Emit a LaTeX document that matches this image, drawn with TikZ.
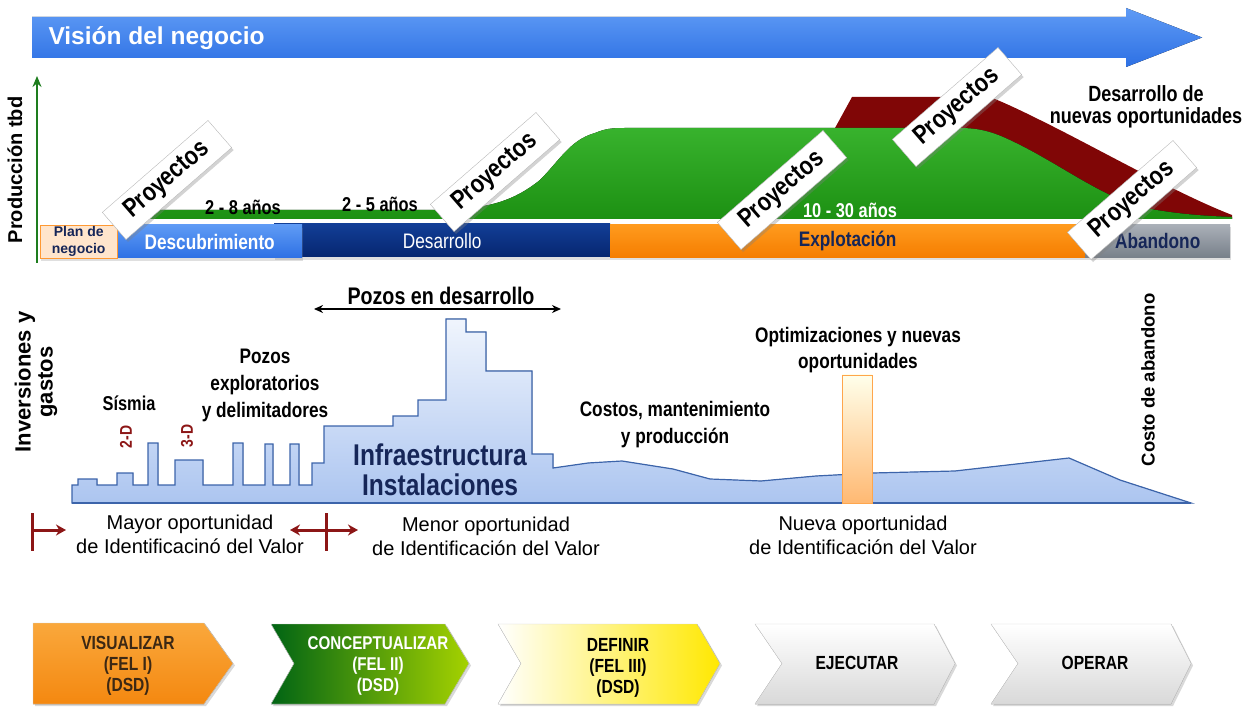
\documentclass[tikz,border=0pt]{standalone}
\usepackage{fontspec}
\setmainfont{Liberation Sans}
\newfontfamily\narrow{Liberation Sans}[FakeStretch=0.82]
\usepackage{tikz}
\usetikzlibrary{arrows, arrows.meta, shadows}
\definecolor{vbtop}{RGB}{95,155,245}
\definecolor{vbbot}{RGB}{45,112,228}
\definecolor{axgreen}{RGB}{30,125,30}
\definecolor{prodgreen}{RGB}{34,170,22}
\definecolor{prodred}{RGB}{128,6,6}
\definecolor{navy}{RGB}{22,38,88}
\definecolor{destop}{RGB}{18,62,150}
\definecolor{desbot}{RGB}{6,38,112}
\definecolor{dred}{RGB}{140,22,22}
\definecolor{invline}{RGB}{60,100,170}
\definecolor{invtop}{RGB}{240,245,253}
\definecolor{invbot}{RGB}{172,197,240}
\tikzstyle{arrow} = [thick,->,>=stealth]
\tikzstyle{lbl} = [align=center, inner sep=0, font=\narrow\bfseries\fsz{21}{27}]
\tikzstyle{olbl} = [align=center, inner sep=0, font=\fsz{20}{24}]
\tikzstyle{phase} = [rectangle, anchor=west, inner sep=0, minimum height=33pt, align=center, font=\narrow\bfseries\fsz{21}{21}, drop shadow={opacity=0.25, shadow xshift=1pt, shadow yshift=-3pt}]
\tikzstyle{proy} = [rectangle, draw=gray!55, fill=white, rotate=41, inner sep=0, minimum width=140pt, minimum height=36pt, font=\narrow\bfseries\fsz{26}{26}, drop shadow={opacity=0.35, shadow xshift=2pt, shadow yshift=-2.5pt}]
\tikzstyle{chev} = [draw=gray!35, drop shadow={opacity=0.3, shadow xshift=2pt, shadow yshift=-2pt}]
\tikzstyle{chevtext} = [align=center, inner sep=0, font=\narrow\bfseries\fsz{19}{21}]
\tikzstyle{mline} = [line width=3pt, dred, >={Stealth[length=10pt,width=11pt]}]
\newcommand\fsz[2]{\fontsize{#1}{#2}\selectfont}

\begin{document}
\begin{tikzpicture}[x=1pt, y=-1pt]
\useasboundingbox (0,0) rectangle (1258,708);

\fill [top color=vbtop, bottom color=vbbot] (32,17) -- (1126,17) -- (1126,8) -- (1202,37.5) -- (1126,67) -- (1126,58) -- (32,58) -- cycle;
\node (vision) [anchor=west, text=white, font=\bfseries\fsz{24.5}{24}] at (45,38) {Visión del negocio};

\coordinate (ybot) at (37,263);
\coordinate (ytop) at (37,76);
\draw [arrow, line width=2.5pt, axgreen, >={Stealth[length=11pt,width=9pt]}] (ybot) -- (ytop);
\node (prod) [rotate=90, font=\bfseries\fsz{20}{20}] at (15,170) {Producción tbd};

\fill [prodred] (830,219) -- (835,128) -- (852,97) -- (990,97) .. controls (1010,105) and (1030,115) .. (1050,125) .. controls (1100,150) and (1180,195) .. (1232,215) -- (1232,219) -- cycle;
\fill [top color=prodgreen!90!white, bottom color=prodgreen!85!black] (140,219) -- (140,210) -- (440,210) .. controls (490,209) and (515,200) .. (540,180) .. controls (560,160) and (570,140) .. (595,133) .. controls (605,129) and (610,128) .. (625,128) -- (960,128) .. controls (985,128) and (1000,135) .. (1020,145) .. controls (1060,165) and (1100,195) .. (1140,207) .. controls (1180,215) and (1210,216) .. (1232,217) -- (1232,219) -- cycle;

\node (desa) [phase, minimum width=336pt, top color=destop, bottom color=desbot, text=white, font=\narrow\fsz{21}{21}] at (274,240.5) {Desarrollo};
\node (desc) [phase, minimum width=185pt, top color=vbtop, bottom color=vbbot, text=white] at (117,241.5) {Descubrimiento};
\node (plan) [phase, minimum width=77pt, draw=orange!80, fill=orange!20, text=navy, font=\bfseries\fsz{14}{17}] at (40,241.5) {Plan de\\negocio};
\node (expl) [phase, minimum width=475pt, top color={rgb,255:red,255;green,155;blue,30}, bottom color={rgb,255:red,245;green,125;blue,0}, text=navy] at (610,241) {Explotación};
\node (aban) [phase, minimum width=145pt, top color={rgb,255:red,170;green,176;blue,184}, bottom color={rgb,255:red,120;green,128;blue,138}, text=navy] at (1085,241) {Abandono};

\node (t28) [lbl, font=\narrow\bfseries\fsz{20}{20}] at (243,207) {2 - 8 años};
\node (t25) [lbl, font=\narrow\bfseries\fsz{20}{20}] at (380,204) {2 - 5 años};
\node (t1030) [lbl, text=white, font=\narrow\bfseries\fsz{20}{20}] at (850,210) {10 - 30 años};
\node (nuevas) [lbl, font=\narrow\bfseries\fsz{22}{22}] at (1146,107) {Desarrollo de\\nuevas oportunidades};

\node (p1) [proy] at (167,180) {Proyectos};
\node (p2) [proy] at (495,172) {Proyectos};
\node (p3) [proy] at (782,190) {Proyectos};
\node (p4) [proy] at (957,107) {Proyectos};
\node (p5) [proy] at (1132,200) {Proyectos};

\filldraw [draw=invline, line width=1.2pt, top color=invtop, bottom color=invbot] (72,503) -- (72,485) -- (78,485) -- (78,479) -- (97,479) -- (97,485) -- (117,485) -- (117,473) -- (133,473) -- (133,485) -- (148,485) -- (148,443) -- (158,443) -- (158,485) -- (175,485) -- (175,460) -- (203,460) -- (203,485) -- (233,485) -- (233,443) -- (243,443) -- (243,485) -- (265,485) -- (265,444) -- (273,444) -- (273,485) -- (290,485) -- (290,444) -- (299,444) -- (299,485) -- (312,485) -- (312,463) -- (324,463) -- (324,426) -- (393,426) -- (393,416) -- (418,416) -- (418,400) -- (446,400) -- (446,319) -- (466,319) -- (466,332) -- (486,332) -- (486,371) -- (532,371) -- (532,454) -- (553,454) -- (553,468) -- (588,463) -- (622,461) -- (673,469) -- (710,479) -- (761,481) -- (816,476) -- (873,473) -- (955,471) -- (1069,458) -- (1120,480) -- (1191,503) -- cycle;
\draw [line width=2.5pt, invline] (72,503) -- (1191,503);
\node (optbar) [rectangle, anchor=south, draw=orange!70, top color=yellow!8, bottom color=orange!55, minimum width=30pt, minimum height=128pt, inner sep=0] at (857,503) {};

\node (inv) [rotate=90, align=center, font=\bfseries\fsz{22}{22}] at (36,382) {Inversiones y\\gastos};
\node (pozdes) [lbl, font=\narrow\bfseries\fsz{24}{24}] at (441,296) {Pozos en desarrollo};
\coordinate (pdl) at (314,309);
\coordinate (pdr) at (561,309);
\draw [{Stealth[length=9pt,width=8pt]}-{Stealth[length=9pt,width=8pt]}, line width=2pt] (pdl) -- (pdr);
\node (sism) [lbl, font=\narrow\bfseries\fsz{20}{20}] at (129,403) {Sísmia};
\node (d2) [rotate=90, text=dred, font=\narrow\bfseries\fsz{17}{17}] at (126,437) {2-D};
\node (d3) [rotate=90, text=dred, font=\narrow\bfseries\fsz{17}{17}] at (187,436) {3-D};
\node (pozex) [lbl] at (265,385) {Pozos\\exploratorios\\y delimitadores};
\node (infra) [lbl, text=navy, font=\narrow\bfseries\fsz{30}{30}] at (440,470) {Infraestructura\\Instalaciones};
\node (costos) [lbl] at (675,425) {Costos, mantenimiento\\y producción};
\node (optim) [lbl, font=\narrow\bfseries\fsz{21}{26}] at (858,350) {Optimizaciones y nuevas\\oportunidades};
\node (cab) [rotate=90, font=\bfseries\fsz{18.5}{18.5}] at (1148,380) {Costo de abandono};

\coordinate (l1t) at (32,513);
\coordinate (l1b) at (32,551);
\coordinate (l1a) at (32,530);
\coordinate (l1e) at (66,530);
\draw [mline] (l1t) -- (l1b);
\draw [mline, ->] (l1a) -- (l1e);
\coordinate (l2t) at (326,513);
\coordinate (l2b) at (326,551);
\coordinate (l2a) at (290,530);
\coordinate (l2e) at (358,530);
\draw [mline] (l2t) -- (l2b);
\draw [mline, <->] (l2a) -- (l2e);

\node (mayor) [olbl] at (190,534) {Mayor oportunidad\\de Identificacinó del Valor};
\node (menor) [olbl] at (486,536) {Menor oportunidad\\de Identificación del Valor};
\node (nueva) [olbl] at (863,535) {Nueva oportunidad\\de Identificación del Valor};

\fill [chev, top color={rgb,255:red,250;green,168;blue,60}, bottom color={rgb,255:red,244;green,136;blue,16}] (33,623) -- (204,623) -- (233,663.5) -- (204,704) -- (33,704) -- cycle;
\fill [chev, left color={rgb,255:red,0;green,100;blue,20}, right color={rgb,255:red,165;green,210;blue,0}] (271,624) -- (445,624) -- (469,663.5) -- (445,704) -- (271,704) -- (294,663.5) -- cycle;
\fill [chev, left color=white, right color={rgb,255:red,255;green,232;blue,0}] (498,624) -- (697,624) -- (720,663.5) -- (697,704) -- (498,704) -- (521,663.5) -- cycle;
\filldraw [chev, top color=white, bottom color=gray!30] (755,624) -- (934,624) -- (955,663.5) -- (934,704) -- (755,704) -- (782,663.5) -- cycle;
\filldraw [chev, top color=white, bottom color=gray!30] (991,624) -- (1171,624) -- (1191,663.5) -- (1171,704) -- (991,704) -- (1018,663.5) -- cycle;

\node (vis) [chevtext, text={rgb,255:red,60;green,40;blue,20}] at (128,666) {VISUALIZAR\\(FEL I)\\(DSD)};
\node (con) [chevtext, text=white, font=\narrow\bfseries\fsz{18.5}{21}] at (378,666) {CONCEPTUALIZAR\\(FEL II)\\(DSD)};
\node (def) [chevtext] at (618,668) {DEFINIR\\(FEL III)\\(DSD)};
\node (eje) [chevtext] at (857,663) {EJECUTAR};
\node (ope) [chevtext] at (1095,663) {OPERAR};
\end{tikzpicture}
\end{document}
